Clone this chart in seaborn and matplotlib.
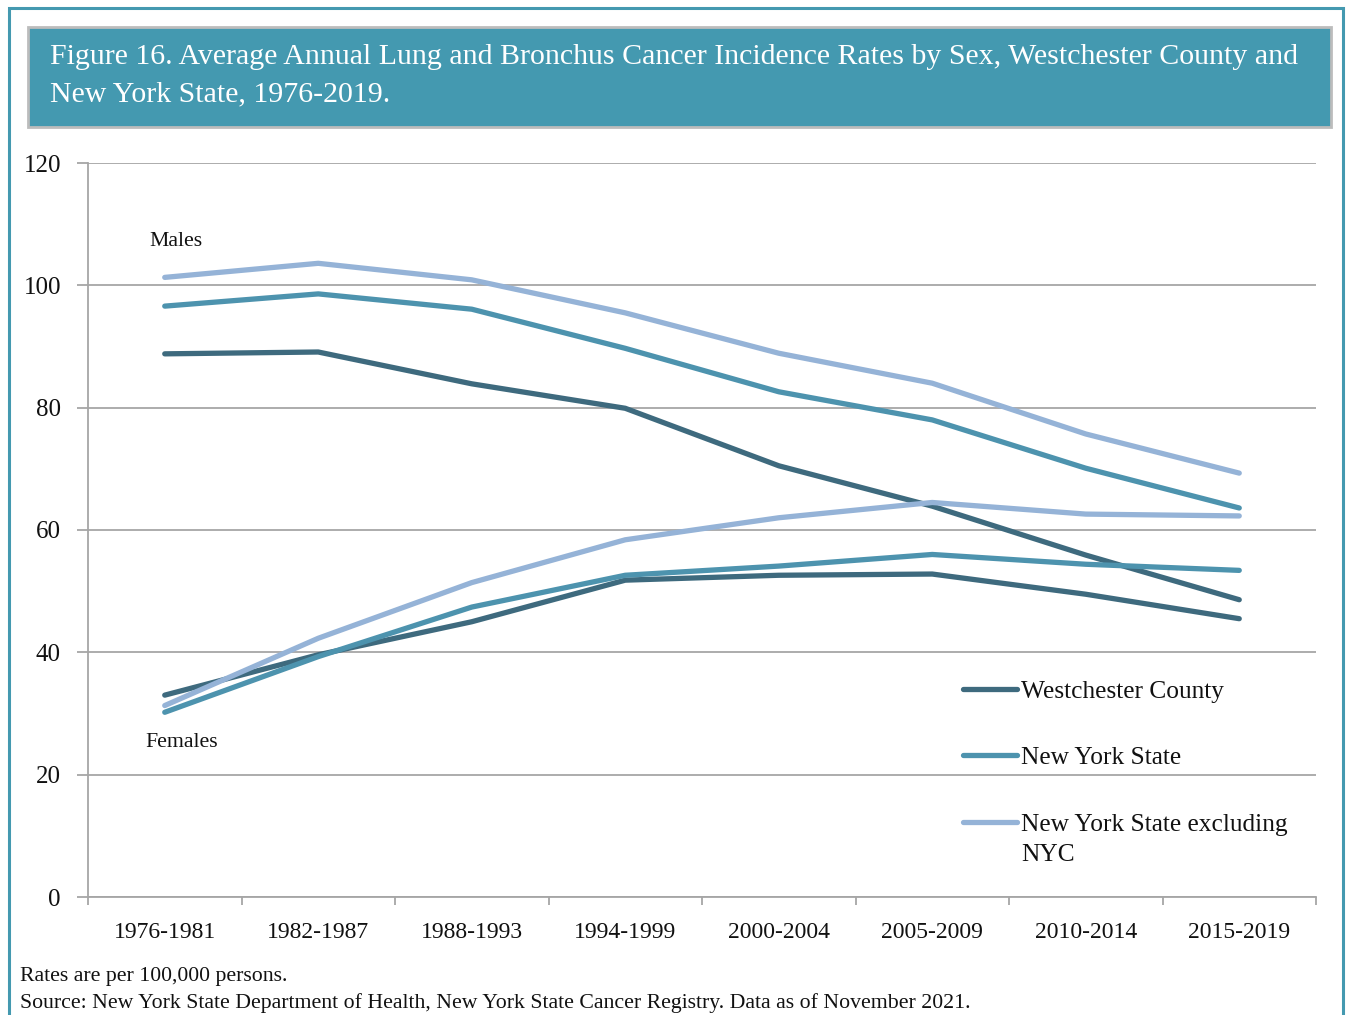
import matplotlib
matplotlib.use("Agg")
import matplotlib.pyplot as plt
from matplotlib.patches import Rectangle
from matplotlib.lines import Line2D
import seaborn as sns
import pandas as pd
import numpy as np

periods = ["1976-1981", "1982-1987", "1988-1993", "1994-1999",
           "2000-2004", "2005-2009", "2010-2014", "2015-2019"]
regions = ["Westchester County", "New York State", "New York State excluding NYC"]

west_males = [88.8, 89.1, 83.9, 79.9, 70.5, 63.9, 55.9, 48.6]
nys_males = [96.6, 98.6, 96.1, 89.7, 82.6, 78.0, 70.1, 63.6]
excl_males = [101.3, 103.6, 100.9, 95.5, 88.9, 84.0, 75.7, 69.3]
west_females = [33.0, 39.6, 45.0, 51.8, 52.6, 52.8, 49.5, 45.5]
nys_females = [30.2, 39.3, 47.4, 52.6, 54.1, 56.0, 54.4, 53.4]
excl_females = [31.3, 42.3, 51.4, 58.4, 62.0, 64.5, 62.6, 62.3]

colors = ["#3e6a7e", "#4d93ae", "#95b3d7"]

rows = []
for sex, series in [("Males", [west_males, nys_males, excl_males]),
                    ("Females", [west_females, nys_females, excl_females])]:
    for reg, vals in zip(regions, series):
        for p, v in zip(periods, vals):
            rows.append({"period": p, "sex": sex, "region": reg, "rate": v})
df = pd.DataFrame(rows)

sns.set_theme(style="white")
plt.rcParams["font.family"] = ["Liberation Serif", "DejaVu Serif"]

fig = plt.figure(figsize=(13.51, 10.15), dpi=100)
W, H = 1351, 1015
ax = fig.add_axes([88 / W, 1 - 897 / H, (1316 - 88) / W, (897 - 163) / H])

sns.lineplot(data=df, x="period", y="rate", hue="region", units="sex",
             estimator=None, palette=colors, hue_order=regions, lw=3.8,
             sort=False, ax=ax, legend=False, solid_capstyle="round")

ax.set_xlim(-0.5, 7.5)
ax.set_ylim(0, 120)
ax.set_yticks(range(0, 121, 20))
ax.set_xticks(range(len(periods)))
ax.set_xticklabels(periods)
ax.set_xlabel("")
ax.set_ylabel("")
ax.grid(axis="y", color="#a6a6a6", lw=1.3)
ax.set_axisbelow(True)
for s in ["top", "right"]:
    ax.spines[s].set_visible(False)
for s in ["left", "bottom"]:
    ax.spines[s].set_color("#a6a6a6")
    ax.spines[s].set_linewidth(1.3)
ax.tick_params(axis="y", which="major", length=8, width=1.3, color="#a6a6a6",
               left=True, labelsize=18, pad=11.5, labelcolor="#111111")
ax.tick_params(axis="x", which="major", length=0, labelsize=17, pad=18,
               labelcolor="#111111")
ax.set_xticks(np.arange(-0.5, 8.0, 1.0), minor=True)
ax.tick_params(axis="x", which="minor", length=6, width=1.3, color="#a6a6a6",
               bottom=True)

ax.text(0.07, 107.2, "Males", fontsize=15.7, ha="center", va="center", color="#111111")
ax.text(0.11, 25.3, "Females", fontsize=15.7, ha="center", va="center", color="#111111")

handles = [Line2D([], [], color=c, lw=3.8, solid_capstyle="round") for c in colors]
labels = ["Westchester County", "New York State", "New York State excluding"]
leg = ax.legend(handles, labels, loc="upper left",
                bbox_to_anchor=((963 - 88) / 1228, 1 - (680 - 163) / 734),
                frameon=False, fontsize=18.3, handlelength=2.12, handletextpad=0.16,
                labelspacing=1.72, borderaxespad=0, borderpad=0)
for t in leg.get_texts():
    t.set_color("#111111")
fig.text(1021 / W, 1 - 855 / H, "NYC", fontsize=18.3, ha="left", va="center",
         color="#111111")

# outer border
fig.patches.append(Rectangle((9 / W, -0.05), (1343 - 9) / W, 1.05 - 8 / H,
                             transform=fig.transFigure, fill=False,
                             edgecolor="#4499b0", lw=2.2))
# title banner
fig.patches.append(Rectangle((28 / W, 1 - 127 / H), (1331 - 28) / W, 100 / H,
                             transform=fig.transFigure, facecolor="#4499b0",
                             edgecolor="#bcbcbc", lw=2))
fig.text(50 / W, 1 - 57 / H,
         "Figure 16. Average Annual Lung and Bronchus Cancer Incidence Rates by Sex, Westchester County and",
         fontsize=21.5, color="white", ha="left", va="center")
fig.text(50 / W, 1 - 94 / H, "New York State, 1976-2019.",
         fontsize=21.5, color="white", ha="left", va="center")

fig.text(20 / W, 1 - 976 / H, "Rates are per 100,000 persons.",
         fontsize=15.7, color="#111111", ha="left", va="center")
fig.text(20 / W, 1 - 1003 / H,
         "Source: New York State Department of Health, New York State Cancer Registry. Data as of November 2021.",
         fontsize=15.7, color="#111111", ha="left", va="center")

fig.savefig("out.png", dpi=100, facecolor="white")
